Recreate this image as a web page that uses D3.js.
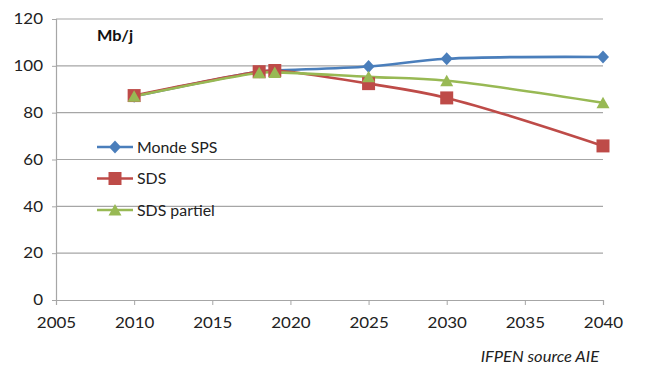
<!DOCTYPE html>
<html><head><meta charset="utf-8">
<script src="https://cdn.jsdelivr.net/npm/d3@7"></script>
<style>body{margin:0;background:#fff}svg{display:block}</style>
</head><body><svg id="c" width="645" height="384"></svg>
<script>
const years = [2010, 2018, 2019, 2025, 2030, 2040];
const mondeSPS = [87, 97.5, 98, 99.7, 103, 103.8];
const sds = [87.3, 97.5, 98, 92.4, 86.3, 65.8];
const sdsPartiel = [87, 97, 97.2, 95.3, 93.6, 84.2];
const seriesNames = ["Monde SPS", "SDS", "SDS partiel"];
const xTicks = [2005, 2010, 2015, 2020, 2025, 2030, 2035, 2040];
const yTicks = [0, 20, 40, 60, 80, 100, 120];
const unitLabel = "Mb/j";
const sourceLabel = "IFPEN source AIE";

const colors = ["#4a7ebb", "#be4b48", "#98b954"];
const font = "Lato, 'Open Sans', sans-serif";
const svg = d3.select("#c");
const L = 56, R = 603, T = 19, B = 300;
const x = d3.scaleLinear().domain([2005, 2040]).range([L, R]);
const y = d3.scaleLinear().domain([0, 120]).range([B, T]);

// marker shapes
const markerPath = [
  "M0,-6.5L6,0L0,6.5L-6,0Z",
  "M-6.5,-6.5H6.5V6.5H-6.5Z",
  "M0,-6L6.5,5.5H-6.5Z"
];

// gridlines
svg.append("g").selectAll("line").data(yTicks.filter(d => d > 0)).join("line")
  .attr("x1", L).attr("x2", R).attr("y1", d => y(d)).attr("y2", d => y(d))
  .attr("stroke", "#a6a6a6").attr("stroke-width", 1.2);

// y axis
const ya = svg.append("g").attr("transform", `translate(${L},0)`)
  .call(d3.axisLeft(y).tickValues(yTicks).tickSize(4).tickPadding(0));
ya.select(".domain").attr("stroke", "#a6a6a6").attr("stroke-width", 1.2);
ya.selectAll(".tick line").attr("stroke", "#a6a6a6");
ya.selectAll("text").attr("x", 0).attr("transform", "translate(-13,0) scale(1.13,1)")
  .attr("font-family", font).attr("font-size", 15).attr("fill", "#222");

// x axis
const xa = svg.append("g").attr("transform", `translate(0,${B})`)
  .call(d3.axisBottom(x).tickValues(xTicks).tickFormat(d3.format("d")).tickSize(5).tickPadding(12));
xa.select(".domain").attr("stroke", "#a6a6a6").attr("stroke-width", 1.2);
xa.selectAll(".tick line").attr("stroke", "#a6a6a6");
xa.selectAll("text").attr("transform", "scale(1.13,1)")
  .attr("font-family", font).attr("font-size", 15).attr("fill", "#222");

const allSeries = [mondeSPS, sds, sdsPartiel];
const line = d3.line().x((d, i) => x(years[i])).y(d => y(d)).curve(d3.curveCatmullRom.alpha(0.5));

allSeries.forEach((vals, s) => {
  svg.append("path").datum(vals).attr("d", line)
    .attr("fill", "none").attr("stroke", colors[s]).attr("stroke-width", 2.6);
});
allSeries.forEach((vals, s) => {
  svg.append("g").selectAll("path").data(vals).join("path")
    .attr("transform", (d, i) => `translate(${x(years[i])},${y(d)})`)
    .attr("d", markerPath[s])
    .attr("fill", colors[s]);
});

// legend
const lg = svg.append("g");
seriesNames.forEach((n, s) => {
  const ly = 147 + s * 31.5;
  lg.append("line").attr("x1", 97).attr("x2", 133).attr("y1", ly).attr("y2", ly)
    .attr("stroke", colors[s]).attr("stroke-width", 2.6);
  lg.append("path").attr("transform", `translate(115,${ly})`)
    .attr("d", markerPath[s]).attr("fill", colors[s]);
  lg.append("text").attr("transform", `translate(137,${ly + 5.5}) scale(1.06,1)`).text(n)
    .attr("font-family", font).attr("font-size", 15).attr("fill", "#222");
});

svg.append("text").attr("transform", "translate(97,41) scale(1.09,1)").text(unitLabel)
  .attr("font-family", font).attr("font-size", 15).attr("font-weight", "bold").attr("fill", "#111");
svg.append("text").attr("transform", "translate(599,362) scale(1.1,1)").attr("text-anchor", "end").text(sourceLabel)
  .attr("font-family", font).attr("font-size", 15).attr("font-style", "italic").attr("fill", "#222");
</script></body></html>
